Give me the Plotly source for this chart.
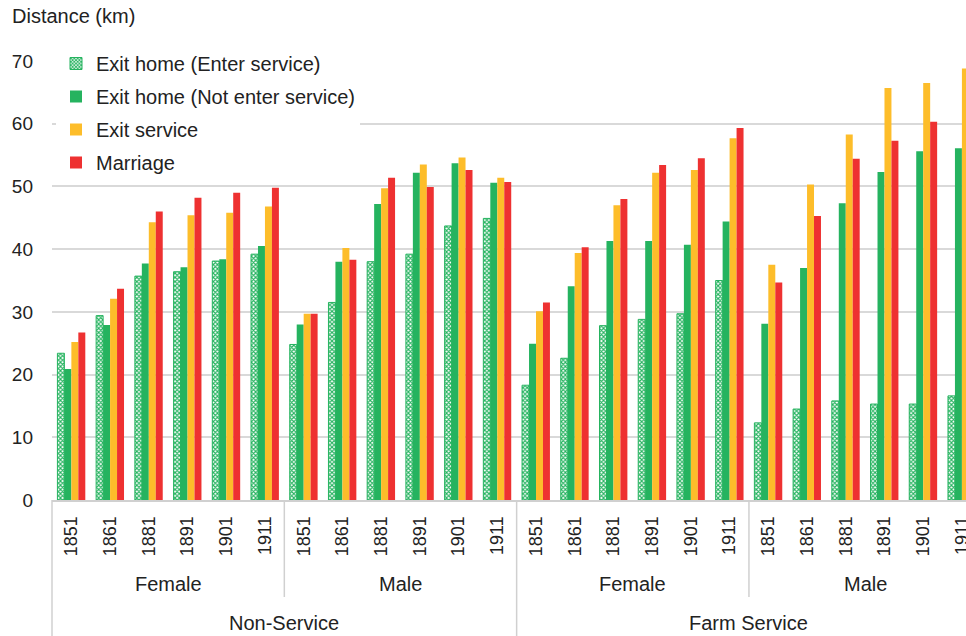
import plotly.graph_objects as go

years = ["1851", "1861", "1881", "1891", "1901", "1911"]
genders = ["Female", "Male"]
services = ["Non-Service", "Farm Service"]

series_names = ["Exit home (Enter service)", "Exit home (Not enter service)", "Exit service", "Marriage"]

# Non-Service Female, Non-Service Male, Farm Service Female, Farm Service Male (each 1851..1911)
exit_home_enter = [23.4, 29.4, 35.7, 36.4, 38.1, 39.2,
                   24.8, 31.5, 38.0, 39.2, 43.7, 44.9,
                   18.3, 22.6, 27.8, 28.8, 29.7, 35.0,
                   12.3, 14.5, 15.8, 15.3, 15.3, 16.6]
exit_home_not = [20.9, 27.9, 37.7, 37.1, 38.4, 40.5,
                 28.0, 38.0, 47.2, 52.2, 53.7, 50.6,
                 24.9, 34.1, 41.3, 41.3, 40.7, 44.4,
                 28.1, 37.0, 47.3, 52.3, 55.6, 56.1]
exit_service = [25.2, 32.1, 44.3, 45.4, 45.8, 46.8,
                29.7, 40.2, 49.7, 53.5, 54.6, 51.4,
                30.1, 39.4, 47.0, 52.2, 52.6, 57.7,
                37.5, 50.3, 58.3, 65.7, 66.5, 68.8]
marriage = [26.7, 33.7, 46.0, 48.2, 49.0, 49.8,
            29.7, 38.3, 51.4, 49.9, 52.6, 50.7,
            31.5, 40.3, 48.0, 53.4, 54.5, 59.3,
            34.7, 45.3, 54.4, 57.3, 60.3, 62.0]

GREEN = "#25b35f"
YELLOW = "#fdbd2a"
RED = "#ee3131"
GRID = "#d9d9d9"
TXT = "#222222"
FONT = "Liberation Sans"

n_groups = len(services) * len(genders) * len(years)
xpos = list(range(n_groups))
tick_text = years * (len(services) * len(genders))

fig = go.Figure()
fig.add_trace(go.Bar(
    x=xpos, y=exit_home_enter, name=series_names[0], legendgroup="a",
    marker=dict(color="white", line=dict(color=GREEN, width=1),
                pattern=dict(shape="x", fgcolor=GREEN, bgcolor="white", size=3, solidity=0.6, fillmode="replace")),
))
fig.add_trace(go.Bar(x=xpos, y=exit_home_not, name=series_names[1], legendgroup="b",
                     marker=dict(color=GREEN, line=dict(width=0))))
fig.add_trace(go.Bar(x=xpos, y=exit_service, name=series_names[2], legendgroup="c",
                     marker=dict(color=YELLOW, line=dict(width=0))))
fig.add_trace(go.Bar(x=xpos, y=marriage, name=series_names[3], legendgroup="d",
                     marker=dict(color=RED, line=dict(width=0))))

W, H = 966, 636
ml, mr, mt, mb = 52, 0, 61, 136
plot_h = H - mt - mb
x0, x1 = -0.5, -0.5 + (W - ml - mr) / 38.72


def px(v):
    return (v - x0) / (x1 - x0)


def py(pixel_y):
    return (H - mb - pixel_y) / plot_h


shapes = []
annotations = []
ng = len(years)
for si, s in enumerate(services):
    for gi, g in enumerate(genders):
        start = (si * len(genders) + gi) * ng
        center = start + (ng - 1) / 2
        annotations.append(dict(x=center, xref="x", y=py(584), yref="paper", text=g, showarrow=False,
                                font=dict(size=20, color=TXT, family=FONT), xanchor="center", yanchor="middle"))
        if gi > 0:
            shapes.append(dict(type="line", xref="paper", yref="paper", x0=px(start - 0.5), x1=px(start - 0.5),
                               y0=0, y1=py(597), line=dict(color="#d0d0d0", width=1.5)))
    sstart = si * len(genders) * ng
    scenter = sstart + (len(genders) * ng - 1) / 2
    annotations.append(dict(x=scenter, xref="x", y=py(623), yref="paper", text=s, showarrow=False,
                            font=dict(size=20, color=TXT, family=FONT), xanchor="center", yanchor="middle"))
    shapes.append(dict(type="line", xref="paper", yref="paper", x0=px(sstart - 0.5), x1=px(sstart - 0.5),
                       y0=0, y1=py(H), line=dict(color="#d0d0d0", width=1.5)))

fig.update_layout(
    width=W, height=H,
    margin=dict(l=ml, r=mr, t=mt, b=mb, pad=0),
    paper_bgcolor="white", plot_bgcolor="white",
    barmode="group", bargap=0.28, bargroupgap=0,
    font=dict(family=FONT, color=TXT, size=18),
    title=dict(text="Distance (km)", x=12 / W, xanchor="left", xref="container",
               y=1 - 16 / H, yanchor="middle", yref="container",
               font=dict(size=20, color=TXT, family=FONT)),
    legend=dict(x=px(-0.5) + 4 / (W - ml), xanchor="left", y=py(44), yanchor="top",
                bgcolor="white", font=dict(size=20, color=TXT, family=FONT),
                tracegroupgap=4, traceorder="grouped", itemwidth=30),
    shapes=shapes, annotations=annotations,
    xaxis=dict(range=[x0, x1], tickmode="array", tickvals=xpos, ticktext=tick_text,
               tickangle=-90, showgrid=False, showline=True, linecolor="#d0d0d0", linewidth=2,
               ticks="", ticklabelstandoff=7, ticklabeloverflow="allow",
               tickfont=dict(size=18, color=TXT, family=FONT),
               zeroline=False, automargin=False),
    yaxis=dict(range=[0, 70], dtick=10, showgrid=True, gridcolor=GRID, gridwidth=2,
               zeroline=False, showline=False, ticks="", ticklabelstandoff=18,
               tickfont=dict(size=19, color=TXT, family=FONT), automargin=False),
)

fig.write_html("out.html", config={"displayModeBar": False},
               post_script="document.body.style.margin='0px';")
